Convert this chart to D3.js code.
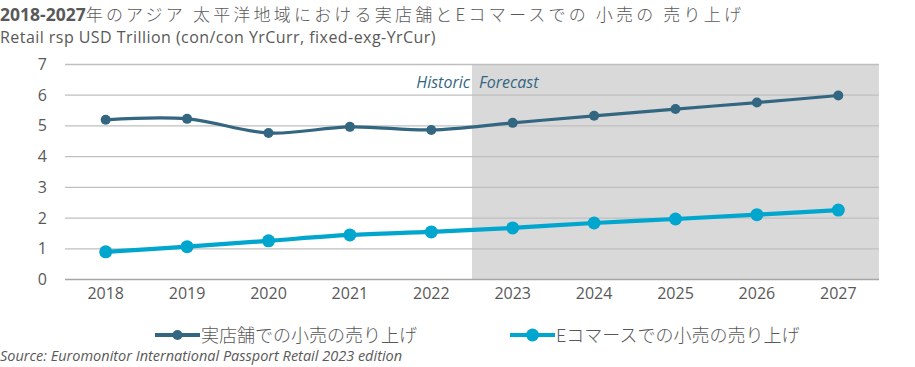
<!DOCTYPE html>
<html><head><meta charset="utf-8">
<script src="https://cdn.jsdelivr.net/npm/d3@7"></script>
<style>body{margin:0;background:#fff;}svg{display:block;}</style>
</head><body>
<svg id="c" width="915" height="367"></svg>
<script>
const years = ["2018","2019","2020","2021","2022","2023","2024","2025","2026","2027"];
const storeValues = [5.2, 5.23, 4.77, 4.97, 4.87, 5.1, 5.33, 5.55, 5.76, 5.99];
const ecomValues = [0.9, 1.07, 1.26, 1.45, 1.55, 1.68, 1.84, 1.97, 2.11, 2.26];
const yTicks = [0,1,2,3,4,5,6,7];
const seriesNames = ["実店舗での小売の売り上げ", "Eコマースでの小売の売り上げ"];
const forecastStart = "2023";

const font = "'Open Sans', 'Noto Sans CJK JP', sans-serif";
const cjk = "'Noto Sans CJK JP', sans-serif";
const svg = d3.select("#c");
const m = {l:65, r:879, t:64.5, b:279.5};
const x = d3.scaleBand().domain(years).range([m.l, m.r]);
const y = d3.scaleLinear().domain([0,7]).range([m.b, m.t]);
const cx = d => x(d) + x.bandwidth()/2;

// forecast shading
svg.append("rect").attr("x", x(forecastStart)).attr("y", y(7))
  .attr("width", m.r - x(forecastStart)).attr("height", y(0)-y(7)).attr("fill", "#D9D9D9");

// gridlines
svg.append("g").selectAll("line").data(yTicks.filter(t=>t>0)).join("line")
  .attr("x1", m.l).attr("x2", m.r).attr("y1", d=>y(d)).attr("y2", d=>y(d))
  .attr("stroke", "#BFBFBF").attr("stroke-width", 1.3);
svg.append("line").attr("x1", m.l).attr("x2", m.r).attr("y1", y(0)).attr("y2", y(0))
  .attr("stroke", "#A6A6A6").attr("stroke-width", 1.5);

// y labels
svg.append("g").selectAll("text").data(yTicks).join("text")
  .attr("x", 47).attr("y", d=>y(d)+5.5).attr("text-anchor","end")
  .attr("font-family", font).attr("font-size", 16).attr("fill", "#595959").text(d=>d);
// x labels
svg.append("g").selectAll("text").data(years).join("text")
  .attr("x", d=>cx(d)).attr("y", 299).attr("text-anchor","middle")
  .attr("font-family", font).attr("font-size", 16).attr("fill", "#595959").text(d=>d);

// Historic/Forecast
svg.append("text").attr("x", x(forecastStart)-2).attr("y", 88).attr("text-anchor","end")
  .attr("font-family", font).attr("font-style","italic").attr("font-size",16).attr("fill","#336680").text("Historic");
svg.append("text").attr("x", x(forecastStart)+7).attr("y", 88).attr("text-anchor","start")
  .attr("font-family", font).attr("font-style","italic").attr("font-size",16).attr("fill","#336680").text("Forecast");

const line = d3.line().x((d,i)=>cx(years[i])).y(d=>y(d)).curve(d3.curveCatmullRom.alpha(0.5));
const series = [
  {vals: storeValues, color:"#336680", w:3.2, r:5},
  {vals: ecomValues, color:"#00A6CE", w:4.2, r:6.5}
];
series.forEach(s=>{
  svg.append("path").attr("d", line(s.vals)).attr("fill","none").attr("stroke", s.color).attr("stroke-width", s.w);
  svg.append("g").selectAll("circle").data(s.vals).join("circle")
    .attr("cx",(d,i)=>cx(years[i])).attr("cy", d=>y(d)).attr("r", s.r).attr("fill", s.color);
});

// title
const t = svg.append("text").attr("x", 0).attr("y", 20.5).attr("font-family", font).attr("font-size", 17.5).attr("fill","#595959");
t.append("tspan").attr("font-weight","bold").text("2018-2027");
t.append("tspan").attr("font-family", cjk).attr("font-weight", 300).attr("font-size",17).attr("letter-spacing", 3.2)
  .text("年のアジア 太平洋地域における実店舗とEコマースでの 小売の 売り上げ");
svg.append("text").attr("x", 0).attr("y", 42.5).attr("font-family", font).attr("font-size", 16).attr("letter-spacing", 0.45).attr("fill","#595959")
  .text("Retail rsp USD Trillion (con/con YrCurr, fixed-exg-YrCur)");

// legend
const legX = [155, 510];
series.forEach((s,i)=>{
  const g = svg.append("g");
  g.append("line").attr("x1", legX[i]).attr("x2", legX[i]+45).attr("y1", 335).attr("y2", 335).attr("stroke", s.color).attr("stroke-width", 4);
  g.append("circle").attr("cx", legX[i]+22.5).attr("cy", 335).attr("r", s.r).attr("fill", s.color);
  g.append("text").attr("x", legX[i]+46).attr("y", 341.5).attr("font-family", cjk).attr("font-weight", 300)
    .attr("font-size", 18).attr("fill","#595959").text(seriesNames[i]);
});

svg.append("text").attr("x", 0).attr("y", 361).attr("font-family", font).attr("font-style","italic")
  .attr("font-size", 14.5).attr("fill","#595959").text("Source: Euromonitor International Passport Retail 2023 edition");
</script>
</body></html>
